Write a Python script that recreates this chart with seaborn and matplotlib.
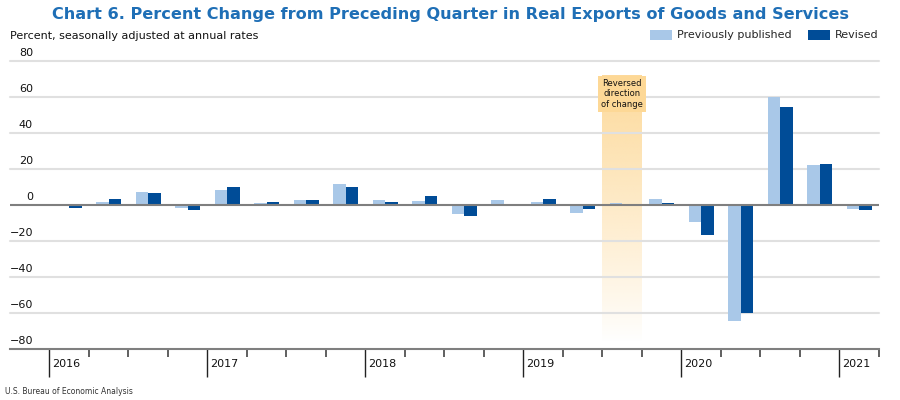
import numpy as np
import pandas as pd
import matplotlib
matplotlib.use('Agg')
import matplotlib.pyplot as plt
import matplotlib.transforms as mtransforms
from matplotlib.patches import Patch
import seaborn as sns

# Данные (чтение с картинки)
quarters = ['2015Q4',
            '2016Q1', '2016Q2', '2016Q3', '2016Q4',
            '2017Q1', '2017Q2', '2017Q3', '2017Q4',
            '2018Q1', '2018Q2', '2018Q3', '2018Q4',
            '2019Q1', '2019Q2', '2019Q3', '2019Q4',
            '2020Q1', '2020Q2', '2020Q3', '2020Q4',
            '2021Q1']
data_quarters = quarters[1:]
previously = [-0.9, 1.5, 7.0, -1.7, 8.3, 0.9, 2.6, 11.5, 2.6, 2.0,
              -5.2, 2.8, 1.7, -4.6, 0.9, 3.3, -9.6, -64.6, 59.6, 22.2, -2.2]
revised = [-1.5, 3.1, 6.5, -3.1, 10.0, 1.7, 2.8, 9.8, 1.7, 5.0,
           -6.1, 0.4, 3.1, -2.2, -0.9, 1.3, -16.5, -60.2, 54.4, 22.4, -3.1]
years = ['2016', '2017', '2018', '2019', '2020', '2021']
y_ticks = [-80, -60, -40, -20, 0, 20, 40, 60, 80]
highlight_quarter = '2019Q3'

series_names = ['Previously published', 'Revised']
colors = ['#a9c8e8', '#004c97']

df = pd.DataFrame({
    'quarter': data_quarters * 2,
    'value': previously + revised,
    'series': [series_names[0]] * len(data_quarters) + [series_names[1]] * len(data_quarters),
})

sns.set_theme(style='white')
plt.rcParams['font.family'] = ['DejaVu Sans']

fig = plt.figure(figsize=(9, 4), dpi=100)
ax_h = 288.3
ax = fig.add_axes([10 / 900, 1 - 349 / 400, 869 / 900, ax_h / 400])

sns.barplot(data=df, x='quarter', y='value', hue='series', order=quarters,
            hue_order=series_names, palette=colors, width=0.64, dodge=True,
            saturation=1, linewidth=0, ax=ax, zorder=3)
ax.get_legend().remove()

# сетка
for v in y_ticks[1:]:
    if v == 0:
        continue
    ax.axhline(v, color='#e0e0e0', lw=1.5, zorder=1, clip_on=False)
ax.axhline(0, color='#7f7f7f', lw=1.5, zorder=5)

# подсвеченный квартал
hx = quarters.index(highlight_quarter)
grad = np.ones((256, 1, 4))
grad[:, 0, 0] = 253 / 255
grad[:, 0, 1] = 216 / 255
grad[:, 0, 2] = 150 / 255
grad[:, 0, 3] = np.linspace(0.95, 0.0, 256) ** 0.9
ax.imshow(grad, extent=(hx - 0.5, hx + 0.5, -76, 72), aspect='auto',
          origin='upper', zorder=0.5, interpolation='bilinear')
ax.set_xlim(-0.5, len(quarters) - 0.5)
ax.set_ylim(-80, 80)
ax.text(hx, 70, 'Reversed\ndirection\nof change', ha='center', va='top',
        fontsize=6, linespacing=1.25, zorder=6, color='#111111',
        bbox=dict(boxstyle='square,pad=0.35', fc='#fdd896', ec='none'))

# оси
for s in ['top', 'right', 'left']:
    ax.spines[s].set_visible(False)
ax.spines['bottom'].set_color('#7f7f7f')
ax.spines['bottom'].set_linewidth(1.5)
ax.set_xlabel('')
ax.set_ylabel('')
ax.set_yticks([])

edges = np.arange(0.5, len(quarters) + 0.5, 1.0)
year_edges = edges[0::4]
ax.set_xticks(year_edges)
ax.set_xticklabels([])
ax.set_xticks([e for e in edges if e not in year_edges], minor=True)
ax.tick_params(axis='x', which='major', length=20, width=1, color='#222222',
               direction='out', bottom=True)
ax.tick_params(axis='x', which='minor', length=6, width=1.2, color='#444444',
               direction='out', bottom=True)

trans_x = mtransforms.blended_transform_factory(ax.transData, ax.transAxes)
for yr, e in zip(years, year_edges):
    ax.annotate(yr, xy=(e, 0), xycoords=trans_x, xytext=(2, -11),
                textcoords='offset points', ha='left', va='center',
                fontsize=8, color='#111111')

trans_y = mtransforms.blended_transform_factory(ax.transAxes, ax.transData)
for v in y_ticks:
    lab = str(v).replace('-', '\u2212')
    ax.annotate(lab, xy=(0.0265, v), xycoords=trans_y, xytext=(0, 2),
                textcoords='offset points', ha='right', va='bottom',
                fontsize=8, color='#111111')

# подписи
fig.text(0.5, 1 - 14 / 400, 'Chart 6. Percent Change from Preceding Quarter in Real Exports of Goods and Services',
         ha='center', va='center', fontsize=11.6, color='#1f6fb6', fontweight='bold')
fig.text(10 / 900, 1 - 36 / 400, 'Percent, seasonally adjusted at annual rates',
         ha='left', va='center', fontsize=8, color='#111111')
fig.text(5 / 900, 1 - 391 / 400, 'U.S. Bureau of Economic Analysis',
         ha='left', va='center', fontsize=5.5, color='#333333')

handles = [Patch(facecolor=c, edgecolor='none') for c in colors]
ax.legend(handles, series_names, ncol=2, loc='center right',
          bbox_to_anchor=(1.0, 1 + 25.7 / ax_h), frameon=False, fontsize=8,
          handlelength=2.0, handleheight=1.0, handletextpad=0.5,
          columnspacing=1.4, borderaxespad=0.0, borderpad=0.0)

fig.savefig('out.png', dpi=100)
